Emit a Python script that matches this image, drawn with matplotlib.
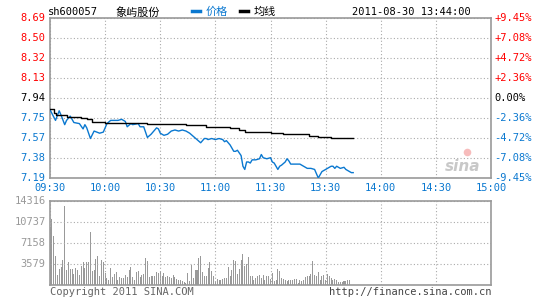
import numpy as np
import matplotlib
matplotlib.use("Agg")
import matplotlib.pyplot as plt

plt.rcParams['font.family'] = ['DejaVu Sans Mono', 'Noto Sans CJK SC']

# basic info
code = "sh600057"
name = "象屿股份"
stamp = "2011-08-30 13:44:00"
prev_close = 7.94
pct_range = 0.0945

# price line, (trading minute, price)
price_min = [0, 3, 5, 6, 8, 9, 11, 13, 16, 18, 19, 20, 22, 24, 27, 29, 31, 33, 37, 39,
             41, 42, 44, 45, 48, 49, 51, 52, 53, 55, 56, 58, 59, 60, 62, 64, 66, 68, 70, 72,
             74, 75, 76, 78, 80, 82, 84, 85, 86, 88, 90, 92, 94, 95, 96, 98, 99, 100, 101, 102,
             104, 105, 106, 107, 108, 109, 110, 112, 114, 115, 116, 118, 120, 121, 122, 123, 124, 125, 126, 128,
             129, 130, 131, 132, 133, 135, 136, 137, 138, 140, 142, 144, 145, 146, 147, 148, 149, 150, 151, 153,
             154, 155, 156, 158, 160, 161, 163, 164, 165]
price_val = [7.83, 7.73, 7.82, 7.78, 7.69, 7.73, 7.77, 7.71, 7.70, 7.65, 7.69, 7.66, 7.56, 7.63, 7.61, 7.62, 7.70, 7.73, 7.73, 7.74,
             7.72, 7.67, 7.70, 7.69, 7.70, 7.67, 7.67, 7.62, 7.57, 7.60, 7.62, 7.66, 7.65, 7.61, 7.59, 7.60, 7.63, 7.64, 7.63, 7.64,
             7.63, 7.62, 7.61, 7.58, 7.55, 7.52, 7.56, 7.56, 7.55, 7.56, 7.55, 7.56, 7.55, 7.53, 7.54, 7.50, 7.47, 7.44, 7.44, 7.45,
             7.40, 7.30, 7.27, 7.34, 7.34, 7.33, 7.36, 7.36, 7.37, 7.41, 7.38, 7.37, 7.38, 7.34, 7.33, 7.30, 7.27, 7.30, 7.31, 7.34,
             7.37, 7.35, 7.32, 7.32, 7.32, 7.32, 7.32, 7.31, 7.30, 7.28, 7.28, 7.27, 7.23, 7.19, 7.22, 7.25, 7.26, 7.27, 7.28, 7.30,
             7.30, 7.28, 7.30, 7.28, 7.29, 7.27, 7.25, 7.24, 7.24]

# average line steps
avg_min = [0, 2, 3, 9, 17, 20, 23, 30, 31, 53, 74, 85, 98, 103, 106, 120, 127, 141, 146, 153, 165]
avg_val = [7.837, 7.797, 7.781, 7.759, 7.750, 7.740, 7.718, 7.708, 7.703, 7.693, 7.684, 7.668, 7.656, 7.640,
           7.624, 7.610, 7.600, 7.587, 7.577, 7.568, 7.568]

# volume per minute
volume = [9940, 11250, 8350, 4940, 1700, 2730, 3120, 4260, 13460, 2560, 3980, 2730, 2730, 1870, 2840, 2560,
          1700, 3240, 3980, 2840, 3980, 3980, 9090, 2390, 2560, 4430, 5000, 1530, 4260, 3980, 1990, 1140,
          850, 2840, 1420, 1870, 2270, 850, 1310, 1140, 1140, 1700, 1310, 2560, 3010, 1310, 850, 2270,
          2390, 1310, 1700, 1870, 4540, 4090, 1310, 1530, 1530, 1530, 2270, 1990,
          2330, 1480, 2040, 1360, 1590, 1360, 1190, 1760, 1360, 1080, 910, 910, 620, 510, 340, 2040,
          620, 3410, 1190, 2500, 2500, 4600, 4880, 2160, 1480, 1590, 2900, 3860, 2330, 1480, 620, 1020,
          910, 910, 1020, 1190, 1190, 3070, 1590, 2610, 4200, 4030, 1930, 2730, 4320, 5340, 3290, 3640,
          4770, 1480, 1590, 800, 1190, 1590, 1760, 1190, 1760, 800, 1590, 1480, 1020, 2040, 620, 910,
          2730, 2330, 1190, 1020, 800, 620, 910, 800, 910, 1020, 1080, 340, 910, 620, 910, 1310,
          1480, 1590, 1930, 4030, 1760, 1480, 2160, 910, 1480, 1760, 910, 1930, 1480, 1190, 910, 1020,
          800, 570, 450, 570, 620, 740, 910, 910]
vol_max = 14316

time_ticks = [0, 30, 60, 90, 120, 150, 180, 210, 240]
time_labels = ["09:30", "10:00", "10:30", "11:00", "11:30", "13:30", "14:00", "14:30", "15:00"]
price_labels = ["7.19", "7.38", "7.57", "7.75", "7.94", "8.13", "8.32", "8.50", "8.69"]
pct_labels = ["-9.45%", "-7.08%", "-4.72%", "-2.36%", "0.00%", "+2.36%", "+4.72%", "+7.08%", "+9.45%"]
vol_labels = ["3579", "7158", "10737", "14316"]

RED = "#ff0000"
BLUE = "#0a78d0"
GREY = "#999999"
W, H = 545, 300

fig = plt.figure(figsize=(5.45, 3.0), dpi=100)


def fx(x):
    return x / W


def fy(y):
    return 1 - y / H


ax = fig.add_axes([fx(50), fy(178), fx(441), (178 - 18) / H])
vax = fig.add_axes([fx(50), fy(285), fx(441), (285 - 201) / H])

lo = prev_close * (1 - pct_range)
hi = prev_close * (1 + pct_range)
yt = np.linspace(lo, hi, 9)

ax.plot(price_min, price_val, color=BLUE, lw=1, zorder=3)
ax.step(avg_min, avg_val, where="post", color="black", lw=1, zorder=4)
ax.set_xlim(0, 240)
ax.set_ylim(lo, hi)
ax.set_xticks(time_ticks)
ax.set_yticks(yt)
ax.grid(True, color="#aaaaaa", ls=(0, (1, 2)), lw=0.8)
ax.tick_params(length=0, labelleft=False, labelbottom=False)

for i, t in enumerate(yt):
    c = RED if i > 4 else ("black" if i == 4 else BLUE)
    ax.text(-0.01, (t - lo) / (hi - lo), price_labels[i], color=c, fontsize=7.5,
            ha="right", va="center", transform=ax.transAxes)
    ax.text(1.008, (t - lo) / (hi - lo), pct_labels[i], color=c, fontsize=7.5,
            ha="left", va="center", transform=ax.transAxes)

for t, lab in zip(time_ticks, time_labels):
    ax.text(t / 240, -0.065, lab, color=BLUE, fontsize=7.5, ha="center", va="center",
            transform=ax.transAxes)

# sina watermark
ax.text(0.935, 0.07, "sina", color="#bbbbbb", fontsize=11, fontstyle="italic",
        fontweight="bold", family="DejaVu Sans", ha="center", va="center",
        transform=ax.transAxes, alpha=0.8)
ax.scatter([0.945], [0.16], s=30, color="#f4a0a0", alpha=0.7, transform=ax.transAxes, lw=0)

vax.bar(np.arange(len(volume)), volume, width=0.55, color=GREY, lw=0)
vax.set_xlim(0, 240)
vax.set_ylim(0, vol_max)
vax.set_xticks(time_ticks)
vax.set_yticks([0, 3579, 7158, 10737, 14316])
vax.grid(True, color="#aaaaaa", ls=(0, (1, 2)), lw=0.8)
vax.tick_params(length=0, labelleft=False, labelbottom=False)
for v, lab in zip([3579, 7158, 10737, 14316], vol_labels):
    vax.text(-0.01, v / vol_max, lab, color=GREY, fontsize=7.5, ha="right", va="center",
             transform=vax.transAxes)

for a in (ax, vax):
    for s in a.spines.values():
        s.set_color(GREY)
        s.set_linewidth(1.2)

# header
fig.text(fx(48), fy(12), code, fontsize=7.5, va="center", ha="left")
fig.text(fx(115), fy(12), name, fontsize=8, va="center", ha="left", family="Noto Sans CJK SC")
fig.add_artist(plt.Line2D([fx(192), fx(200)], [fy(11), fy(11)], color=BLUE, lw=2.5))
fig.text(fx(206), fy(12), "价格", color=BLUE, fontsize=8, va="center", family="Noto Sans CJK SC")
fig.add_artist(plt.Line2D([fx(240), fx(248)], [fy(11), fy(11)], color="black", lw=2.5))
fig.text(fx(254), fy(12), "均线", fontsize=8, va="center", family="Noto Sans CJK SC")
fig.text(fx(471), fy(12), stamp, fontsize=7.5, va="center", ha="right")

# footer
fig.text(fx(50), fy(292), "Copyright 2011 SINA.COM", color="#666666", fontsize=7.5, va="center")
fig.text(fx(492), fy(292), "http://finance.sina.com.cn", color="#444444", fontsize=7.5,
         va="center", ha="right")

fig.savefig("out.png", dpi=100)
